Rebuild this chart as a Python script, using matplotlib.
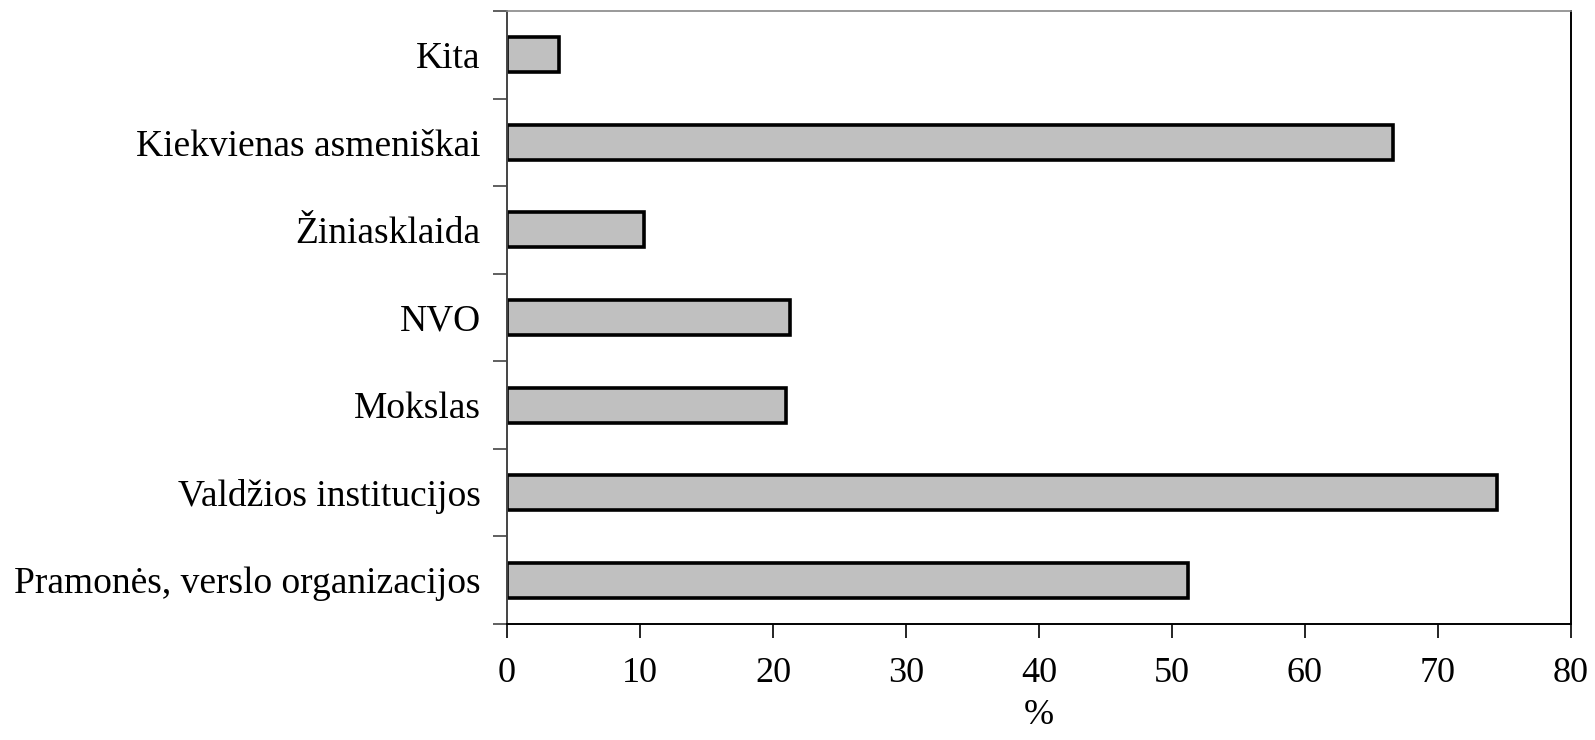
import matplotlib.pyplot as plt

categories = ["Pramonės, verslo organizacijos", "Valdžios institucijos", "Mokslas",
              "NVO", "Žiniasklaida", "Kiekvienas asmeniškai", "Kita"]
values = [51.2, 74.4, 21.0, 21.3, 10.3, 66.6, 3.9]
xticks = [0, 10, 20, 30, 40, 50, 60, 70, 80]

plt.rcParams['font.family'] = ['Liberation Serif', 'DejaVu Serif']

fig = plt.figure(figsize=(15.95, 7.4), dpi=100)
ax = fig.add_axes([507/1595, 1-624/740, (1571-507)/1595, (624-11)/740])

pos = list(range(len(categories)))
ax.barh(pos, values, height=0.4, color='#c0c0c0', edgecolor='black', linewidth=2.6)

ax.set_xlim(0, 80)
ax.set_ylim(-0.5, len(categories)-0.5)
ax.set_xticks(xticks)
ax.set_xticklabels([str(t) for t in xticks], size=26)

# labels sit between the boundary ticks
ax.set_yticks([p - 0.5 for p in pos] + [len(categories)-0.5])
ax.set_yticklabels([])
ax.set_yticks(pos, minor=True)
ax.set_yticklabels(categories, minor=True, size=27)
ax.tick_params(axis='y', which='minor', length=0, pad=19)
ax.tick_params(axis='y', which='major', length=10, width=1.2, color='#444444', direction='out')
ax.tick_params(axis='x', length=10, width=1.2, direction='out', pad=14)

ax.set_xlabel("%", size=26, labelpad=6)

for s in ['left', 'bottom', 'right']:
    ax.spines[s].set_linewidth(1.4)
ax.spines['top'].set_color('#888888')
ax.spines['top'].set_linewidth(1.2)
ax.spines['left'].set_color('#444444')

fig.savefig("out.png", dpi=100)
